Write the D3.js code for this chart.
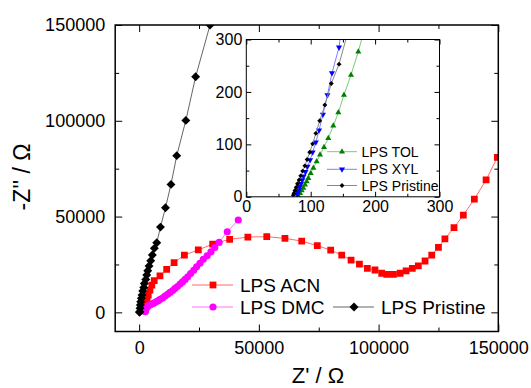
<!DOCTYPE html>
<html>
<head>
<meta charset="utf-8">
<script src="https://cdn.jsdelivr.net/npm/d3@7"></script>
<style>
  body { margin: 0; background: #fff; }
  text { font-family: Arial, "Liberation Sans", sans-serif; fill: #000; }
</style>
</head>
<body>
<svg id="chart" width="531" height="388"></svg>
<script>
// main plot data: [Z', -Z''] in ohm
const acn = [[2500,1200],[2900,3800],[3300,6400],[3800,9000],[4500,11600],[5300,14200],[6300,16600],
  [8700,19000],[11500,22400],[14600,26000],[18900,29900],[24700,32600],[30700,35600],[37800,38100],
  [45400,39300],[53300,39500],[60900,38600],[67900,37200],[74400,34800],[80000,32500],[84600,29900],
  [88500,27300],[92000,25200],[95300,23000],[98500,22100],[101300,20400],[103400,19800],[106200,19800],
  [109000,20400],[111500,21600],[114100,23000],[116600,24300],[119400,26800],[122200,29900],
  [125000,33900],[127700,38300],[131500,44200],[135400,50800],[140000,59100],[144900,69100],[149600,80900]];
const dmc = [[2500,300],[2800,1600],[3300,2700],[3900,3400],[4600,3900],[5300,4300],[6100,4800],
  [7100,5500],[8000,6100],[8800,6800],[9800,7500],[10800,8500],[11900,9400],[12900,10400],[14000,11400],
  [15000,12500],[16000,13500],[17100,14800],[18100,15900],[19200,17200],[20300,18600],[21500,20300],
  [22800,22000],[24000,23800],[25400,25600],[26800,27700],[28400,29500],[30000,31600],[31600,33900],
  [33400,36500],[36800,42100],[41400,48200]];
const pristine = [[150,0],[250,300],[380,2100],[500,3800],[670,5500],[920,7300],[1210,9000],[1500,11100],
  [1920,13000],[2170,15100],[2760,17200],[3170,19500],[3590,21700],[4130,24200],[4840,26900],[5510,29900],
  [6350,33400],[7350,36300],[8900,44500],[11000,54600],[13300,66800],[15700,81800],[19500,100200],
  [23600,123000],[29600,150000]];

// inset data
const tol = [[80.8,1.9],[83.4,7],[86,12],[88.5,16.6],[91.2,22.9],[93.8,29.2],[96.3,35.6],[100,45.1],
  [104.1,54.7],[109.3,67.3],[114.5,80],[120.7,94.7],[127.3,111.8],[135.1,135.3],[142.9,160.6],
  [151.7,194.3],[162.6,232.4],[173.9,276.8],[183,318]];
const xyl = [[79,4],[80,8],[81.5,13],[83,19],[85,25],[87,32],[89,39],[92,48],[95,58],[99,70],[103,85],
  [108,104],[113,127],[119,157],[126,194],[133,236],[144,285],[150,345]];
const pristineInset = [[73,3],[74,7],[75.5,12],[77.5,18],[79.5,25],[82,32],[84.5,40],[87.5,49],[91,59],
  [94.5,71],[98.5,85],[103,101],[108,121],[114,145],[122,175],[132,216],[144,253],[158,315]];

const mainTicks = [0, 50000, 100000, 150000];
const mainMinor = [25000, 75000, 125000];
const insetTicks = [0, 100, 200, 300];
const insetMinor = [50, 150, 250];

const svg = d3.select("#chart");

// main scales
var x = d3.scaleLinear().domain([-10000, 150000]).range([115.2, 498.3]);
var y = d3.scaleLinear().domain([-10000, 150000]).range([331.5, 25]);

svg.append("clipPath").attr("id", "clipMain")
  .append("rect").attr("x", 115.2).attr("y", 25).attr("width", 498.3 - 115.2).attr("height", 331.5 - 25);

// inward ticks on all four sides, labels only bottom and left
function frameAxes(g, xs, ys, major, minor, big, small, fontSize, labelPad) {
  const [x0, x1] = xs.range(), [y0, y1] = ys.range();
  g.append("g").attr("transform", "translate(0," + y0 + ")")
    .call(d3.axisBottom(xs).tickValues(major).tickSize(-big).tickPadding(labelPad).tickFormat(d3.format("d")))
    .call(a => a.selectAll("text").style("font-size", fontSize + "px"));
  g.append("g").attr("transform", "translate(0," + y0 + ")")
    .call(d3.axisBottom(xs).tickValues(minor).tickSize(-small).tickFormat(""));
  g.append("g").attr("transform", "translate(0," + y1 + ")")
    .call(d3.axisTop(xs).tickValues(major).tickSize(-big).tickFormat(""));
  g.append("g").attr("transform", "translate(0," + y1 + ")")
    .call(d3.axisTop(xs).tickValues(minor).tickSize(-small).tickFormat(""));
  g.append("g").attr("transform", "translate(" + x0 + ",0)")
    .call(d3.axisLeft(ys).tickValues(major).tickSize(-big).tickPadding(labelPad).tickFormat(d3.format("d")))
    .call(a => a.selectAll("text").style("font-size", fontSize + "px"));
  g.append("g").attr("transform", "translate(" + x0 + ",0)")
    .call(d3.axisLeft(ys).tickValues(minor).tickSize(-small).tickFormat(""));
  g.append("g").attr("transform", "translate(" + x1 + ",0)")
    .call(d3.axisRight(ys).tickValues(major).tickSize(-big).tickFormat(""));
  g.append("g").attr("transform", "translate(" + x1 + ",0)")
    .call(d3.axisRight(ys).tickValues(minor).tickSize(-small).tickFormat(""));
  g.selectAll(".domain").remove();
  g.selectAll("text").style("font-family", "Arial, 'Liberation Sans', sans-serif").attr("fill", "#000");
  g.selectAll("line").attr("stroke", "#000");
}

function series(g, xs, ys, data, lineColor, fill, symbol, size, rotate, clip) {
  const s = g.append("g").attr("clip-path", clip);
  s.append("path").datum(data)
    .attr("fill", "none").attr("stroke", lineColor).attr("stroke-width", 1)
    .attr("d", d3.line().x(d => xs(d[0])).y(d => ys(d[1])));
  s.selectAll("path.m").data(data).enter().append("path")
    .attr("class", "m")
    .attr("d", d3.symbol().type(symbol).size(size))
    .attr("transform", d => "translate(" + xs(d[0]) + "," + ys(d[1]) + ") rotate(" + rotate + ")")
    .attr("fill", fill);
}

// main chart
const main = svg.append("g");
series(main, x, y, acn, "#ff6a6a", "#ff0000", d3.symbolSquare, 46, 0, "url(#clipMain)");
series(main, x, y, dmc, "#ff70ff", "#ff00ff", d3.symbolCircle, 40, 0, "url(#clipMain)");
series(main, x, y, pristine, "#666", "#000", d3.symbolSquare, 40, 45, "url(#clipMain)");

main.append("rect").attr("x", 115.2).attr("y", 25).attr("width", 498.3 - 115.2).attr("height", 331.5 - 25)
  .attr("fill", "none").attr("stroke", "#000").attr("stroke-width", 1.5);
frameAxes(main.append("g"), x, y, mainTicks, mainMinor, 7, 4, 18, 10);

// axis titles
svg.append("text").attr("x", 318).attr("y", 383).attr("text-anchor", "middle")
  .style("font-size", "22px").text("Z' / \u03A9");
svg.append("text").attr("transform", "translate(30,177) rotate(-90)").attr("text-anchor", "middle")
  .style("font-size", "23px").text("-Z'' / \u03A9");

// main legend
const legMain = [
  {name: "LPS ACN", line: "#ff6a6a", fill: "#ff0000", sym: d3.symbolSquare, size: 46, rot: 0, lx: 192, ly: 285},
  {name: "LPS DMC", line: "#ff70ff", fill: "#ff00ff", sym: d3.symbolCircle, size: 40, rot: 0, lx: 192, ly: 307},
  {name: "LPS Pristine", line: "#666", fill: "#000", sym: d3.symbolSquare, size: 40, rot: 45, lx: 333, ly: 307}
];
legMain.forEach(l => {
  const g = svg.append("g").attr("transform", "translate(" + l.lx + "," + l.ly + ")");
  g.append("line").attr("x1", 0).attr("x2", 41).attr("stroke", l.line);
  g.append("path").attr("d", d3.symbol().type(l.sym).size(l.size)())
    .attr("transform", "translate(21,0) rotate(" + l.rot + ")").attr("fill", l.fill);
  g.append("text").attr("x", 48).attr("y", 7).style("font-size", "19px").text(l.name);
});

// inset
var xi = d3.scaleLinear().domain([0, 300]).range([246.3, 439.5]);
var yi = d3.scaleLinear().domain([0, 300]).range([196.8, 39.5]);
svg.append("clipPath").attr("id", "clipInset")
  .append("rect").attr("x", 246.3).attr("y", 39.5).attr("width", 439.5 - 246.3).attr("height", 196.8 - 39.5);
const inset = svg.append("g");
inset.append("rect").attr("x", 246.3).attr("y", 39.5).attr("width", 439.5 - 246.3).attr("height", 196.8 - 39.5)
  .attr("fill", "#fff");
series(inset, xi, yi, tol, "#7cc97c", "#008000", d3.symbolTriangle, 16, 0, "url(#clipInset)");
series(inset, xi, yi, xyl, "#7f7fff", "#0000ff", d3.symbolTriangle, 16, 180, "url(#clipInset)");
series(inset, xi, yi, pristineInset, "#888", "#000", d3.symbolSquare, 12, 45, "url(#clipInset)");
inset.append("rect").attr("x", 246.3).attr("y", 39.5).attr("width", 439.5 - 246.3).attr("height", 196.8 - 39.5)
  .attr("fill", "none").attr("stroke", "#000").attr("stroke-width", 1);
frameAxes(inset.append("g"), xi, yi, insetTicks, insetMinor, 5, 3, 16, 4);

const legInset = [
  {name: "LPS TOL", line: "#7cc97c", fill: "#008000", sym: d3.symbolTriangle, rot: 0, size: 16, ly: 151.7},
  {name: "LPS XYL", line: "#7f7fff", fill: "#0000ff", sym: d3.symbolTriangle, rot: 180, size: 16, ly: 169.3},
  {name: "LPS Pristine", line: "#888", fill: "#000", sym: d3.symbolSquare, rot: 45, size: 12, ly: 185.5}
];
legInset.forEach(l => {
  const g = svg.append("g").attr("transform", "translate(327," + l.ly + ")");
  g.append("line").attr("x1", 0).attr("x2", 30).attr("stroke", l.line);
  g.append("path").attr("d", d3.symbol().type(l.sym).size(l.size)())
    .attr("transform", "translate(15,0) rotate(" + l.rot + ")").attr("fill", l.fill);
  g.append("text").attr("x", 34.5).attr("y", 5).style("font-size", "14px").text(l.name);
});
</script>
</body>
</html>
